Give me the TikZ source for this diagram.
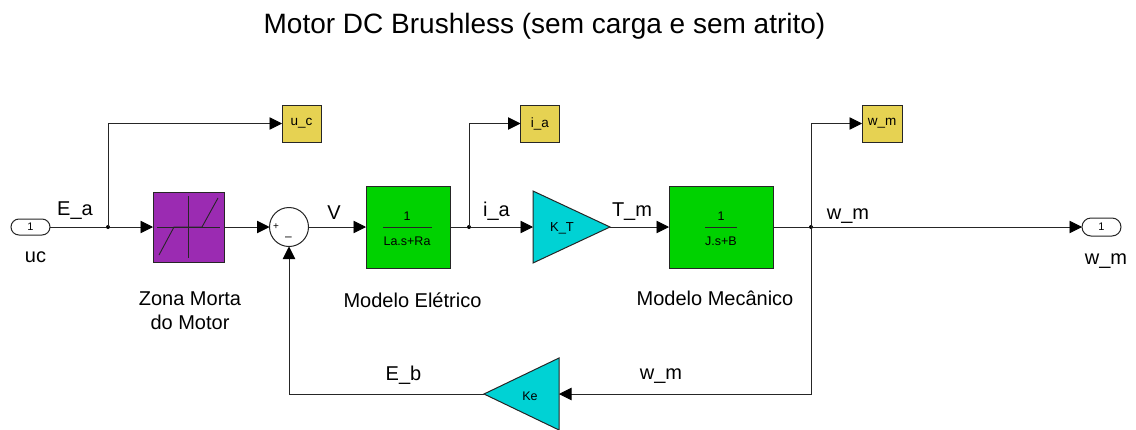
\documentclass[tikz,border=0pt]{standalone}
\usepackage{fontspec}
\setmainfont{Liberation Sans}
\usetikzlibrary{arrows.meta,shapes.geometric,shapes.misc}
\definecolor{dzpurple}{RGB}{155,43,178}
\definecolor{tfgreen}{RGB}{0,210,0}
\definecolor{gaincyan}{RGB}{0,210,212}
\definecolor{gotoyellow}{RGB}{230,210,82}
\newcommand{\fs}[1]{\fontsize{#1}{#1}\selectfont}
\tikzset{
  x=1pt,y=-1pt,
  wire/.style={line width=0.9pt,draw=black!85},
  sig/.style={wire,-{Triangle[length=12.5pt,width=12.5pt,color=black]},shorten >=0pt},
  blockbase/.style={draw=black!85,line width=1pt,inner sep=0pt,outer sep=0pt},
  port/.style={blockbase,rounded rectangle,fill=white,minimum width=39pt,font=\fs{11}},
  gotobox/.style={blockbase,rectangle,fill=gotoyellow,minimum width=39pt,minimum height=37pt,font=\fs{13.5}},
  tf/.style={blockbase,rectangle,fill=tfgreen,minimum height=82pt},
  gain/.style={blockbase,isosceles triangle,isosceles triangle stretches,fill=gaincyan},
  lab/.style={font=\fs{20},anchor=base,inner sep=0pt},
  capt/.style={font=\fs{20},anchor=base,inner sep=0pt},
  dot/.style={circle,fill=black,inner sep=0pt,minimum size=4pt},
  tftext/.style={font=\fs{12.5},anchor=base,inner sep=0pt},
}
\begin{document}
\begin{tikzpicture}
\useasboundingbox (0,0) rectangle (1136,429);
\node[font=\fs{28},anchor=base,inner sep=0pt] (title) at (544.5,33) {Motor DC Brushless (sem carga e sem atrito)};

% blocks
\node[port,minimum height=16pt] (in) at (30.5,227) {1};
\node[blockbase,rectangle,fill=dzpurple,minimum width=71pt,minimum height=70pt] (dz) at (188.5,227) {};
\node[blockbase,circle,fill=white,minimum size=39pt] (sum) at (289,227) {};
\node[tf,minimum width=84pt] (elec) at (408,227) {};
\node[gain,minimum height=77pt,minimum width=72pt,anchor=lower side] (kt) at (533,227) {};
\node[font=\fs{13},inner sep=0pt] (ktlab) at (562,228) {K\_T};
\node[tf,minimum width=104pt] (mech) at (721,227) {};
\node[port,minimum height=18pt] (out) at (1101.5,227) {1};
\node[gotobox] (gu) at (301.5,123.5) {u\_c};
\node[gotobox] (gi) at (540,123.5) {i\_a};
\node[gotobox,minimum width=40pt] (gw) at (882,123.5) {w\_m};
\node[gain,shape border rotate=180,minimum height=75pt,minimum width=72pt,anchor=lower side] (ke) at (559,394) {};
\node[font=\fs{12.5},inner sep=0pt] (kelab) at (530,396) {Ke};

% dead zone icon
\draw[line width=0.9pt,black!85] (157,227) -- (220,227) (188,196) -- (188,258);
\draw[line width=0.9pt,black!85] (159,255) -- (174,227) -- (202,227) -- (218,198);

% sum signs
\node[font=\fs{10},inner sep=0pt] (plus) at (276,227) {+};
\node[font=\fs{12},inner sep=0pt] (minus) at (288.5,238.5) {–};

% transfer function text
\node[tftext] (en) at (407,220) {1};
\node[tftext] (ed) at (407,245) {La.s+Ra};
\draw[line width=0.9pt,black!85] (383,227) -- (432,227);
\node[tftext] (mn) at (721,220) {1};
\node[tftext] (md) at (721,245) {J.s+B};
\draw[line width=0.9pt,black!85] (705,227) -- (737,227);

% junctions
\node[dot] (j1) at (108,227) {};
\node[dot] (j2) at (469,227) {};
\node[dot] (j3) at (811,227) {};
\coordinate (c1) at (108,123.5);
\coordinate (c2) at (469,123.5);
\coordinate (c3) at (811,123.5);
\coordinate (c4) at (811,394);
\coordinate (c5) at (289,394);

% connectors
\draw[wire] (in.east) -- (j1);
\draw[sig] (j1) -- (dz.west);
\draw[sig] (j1.center) -- (c1) -- (gu.west);
\draw[sig] (dz.east) -- (sum.west);
\draw[sig] (sum.east) -- (elec.west);
\draw[wire] (elec.east) -- (j2);
\draw[sig] (j2) -- (kt.lower side);
\draw[sig] (j2.center) -- (c2) -- (gi.west);
\draw[sig] (kt.apex) -- (mech.west);
\draw[wire] (mech.east) -- (j3);
\draw[sig] (j3) -- (out.west);
\draw[sig] (j3.center) -- (c3) -- (gw.west);
\draw[sig] (j3.center) -- (c4) -- (ke.lower side);
\draw[sig] (ke.apex) -- (c5) -- (sum.south);

% labels
\node[lab] (lea) at (75,215) {E\_a};
\node[lab] (lv) at (334,219) {V};
\node[lab] (lia) at (496.5,216) {i\_a};
\node[lab] (ltm) at (632,216) {T\_m};
\node[lab] (lwm) at (848,219) {w\_m};
\node[lab] (leb) at (403.5,380) {E\_b};
\node[lab] (lwm2) at (661,379) {w\_m};
\node[capt] (luc) at (35.5,262) {uc};
\node[capt] (lwo) at (1106,264) {w\_m};
\node[capt] (z1) at (190,305) {Zona Morta};
\node[capt] (z2) at (190,329) {do Motor};
\node[capt] (me) at (412.5,307) {Modelo Elétrico};
\node[capt] (mm) at (715,305) {Modelo Mecânico};
\end{tikzpicture}
\end{document}
